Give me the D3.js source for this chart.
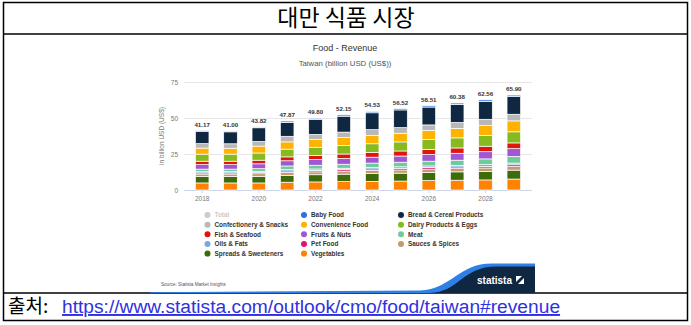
<!DOCTYPE html>
<html><head><meta charset="utf-8">
<script src="https://cdn.jsdelivr.net/npm/d3@7"></script>
<style>
html,body{margin:0;padding:0;background:#fff;}
svg{display:block;}
</style></head>
<body>
<script>
const years = [2018,2019,2020,2021,2022,2023,2024,2025,2026,2027,2028,2029];
const totals = [41.17,41.00,43.82,47.87,49.80,52.15,54.53,56.52,58.51,60.38,62.56,65.90];
const vegetables  = [4.9,4.9,4.9,5.4,5.6,5.8,6.0,6.2,6.6,6.8,7.0,7.6];
const spreads     = [4.5,4.5,4.6,4.8,5.0,5.2,5.4,5.5,5.6,5.8,5.9,6.2];
const sauces      = [1.7,1.7,1.8,2.0,2.0,2.1,2.2,2.2,2.3,2.3,2.4,2.5];
const petFood     = [0.8,0.8,0.8,1.0,1.0,1.0,1.0,1.1,1.1,1.1,1.1,1.2];
const oilsFats    = [0.9,0.9,0.9,1.0,1.0,1.0,1.1,1.1,1.1,1.1,1.2,1.2];
const meat        = [1.7,1.7,1.8,2.5,2.6,2.8,3.0,3.2,3.3,3.6,4.0,4.6];
const fruitsNuts  = [3.1,3.1,3.4,3.6,3.9,4.0,4.1,4.3,4.6,4.8,5.0,5.4];
const fishSeafood = [2.4,2.4,2.5,2.7,2.9,3.1,3.3,3.5,3.6,3.7,3.8,4.0];
const dairy       = [4.9,4.9,5.0,5.4,5.7,5.9,6.0,6.3,6.8,7.0,7.4,7.7];
const convenience = [4.2,4.1,4.8,5.0,5.3,5.5,5.8,6.0,6.4,6.6,6.9,7.6];
const confection  = [3.1,3.1,3.2,3.9,3.6,3.8,4.0,3.9,3.8,4.1,4.4,4.6];
const bread       = [8.37,8.30,9.52,9.67,10.30,11.05,11.73,12.32,12.41,12.58,12.46,12.30];
const babyFood    = [0.6,0.6,0.6,0.9,0.9,0.9,0.9,0.9,0.9,0.9,1.0,1.0];
const xTickLabels = ["2018","2020","2022","2024","2026","2028"];
const yTicks = [0,25,50,75];

const series = [
  {name:"Vegetables", values:vegetables, color:"#ff8200"},
  {name:"Spreads & Sweeteners", values:spreads, color:"#3d6b0c"},
  {name:"Sauces & Spices", values:sauces, color:"#c49b6d"},
  {name:"Pet Food", values:petFood, color:"#e2136f"},
  {name:"Oils & Fats", values:oilsFats, color:"#78a8e6"},
  {name:"Meat", values:meat, color:"#6fcb98"},
  {name:"Fruits & Nuts", values:fruitsNuts, color:"#a057d4"},
  {name:"Fish & Seafood", values:fishSeafood, color:"#e0150e"},
  {name:"Dairy Products & Eggs", values:dairy, color:"#86ba1f"},
  {name:"Convenience Food", values:convenience, color:"#ffb200"},
  {name:"Confectionery & Snacks", values:confection, color:"#b8b8b8"},
  {name:"Bread & Cereal Products", values:bread, color:"#0f2741"},
  {name:"Baby Food", values:babyFood, color:"#2b72e2"}
];
const legendOrder = ["Total","Baby Food","Bread & Cereal Products","Confectionery & Snacks","Convenience Food","Dairy Products & Eggs","Fish & Seafood","Fruits & Nuts","Meat","Oils & Fats","Pet Food","Sauces & Spices","Spreads & Sweeteners","Vegetables"];

const W = 691, H = 325;
const svg = d3.select("body").append("svg").attr("width", W).attr("height", H);

// table frame
svg.append("rect").attr("x",3.5).attr("y",2.5).attr("width",684).attr("height",318)
  .attr("fill","none").attr("stroke","#000").attr("stroke-width",1.5);
svg.append("line").attr("x1",3).attr("x2",688).attr("y1",34).attr("y2",34).attr("stroke","#000").attr("stroke-width",1.5);
svg.append("line").attr("x1",3).attr("x2",688).attr("y1",293).attr("y2",293).attr("stroke","#000").attr("stroke-width",1.5);

svg.append("text").attr("x",346).attr("y",26).attr("text-anchor","middle")
  .attr("font-family","'Noto Sans CJK KR'").attr("font-size",23).attr("fill","#000")
  .text("대만 식품 시장");

// chart titles
svg.append("text").attr("x",345).attr("y",51).attr("text-anchor","middle")
  .attr("font-family","'Liberation Sans', Arial, sans-serif").attr("font-size",9).attr("fill","#333")
  .text("Food - Revenue");
svg.append("text").attr("x",345).attr("y",66).attr("text-anchor","middle")
  .attr("font-family","'Liberation Sans', Arial, sans-serif").attr("font-size",7.8).attr("fill","#555")
  .text("Taiwan (billion USD (US$))");

// scales
const x = d3.scaleBand().domain(years).range([188, 528]).paddingInner(0.52).paddingOuter(0.26);
const y = d3.scaleLinear().domain([0,75]).range([190, 82]);

// grid
svg.append("g").selectAll("line").data(yTicks).join("line")
  .attr("x1",184).attr("x2",532).attr("y1",d=>y(d)).attr("y2",d=>y(d))
  .attr("stroke",d=>d===0?"#ccd6eb":"#e6e6e6").attr("stroke-width",1).attr("shape-rendering","crispEdges");

// y axis labels
const yAxis = d3.axisLeft(y).tickValues(yTicks).tickSize(0).tickPadding(0);
const gy = svg.append("g").attr("transform","translate(178,0)").call(yAxis);
gy.select(".domain").remove();
gy.selectAll("text").attr("font-family","'Liberation Sans', Arial, sans-serif").attr("font-size",6.5).attr("fill","#777");

svg.append("text").attr("transform","translate(164,136) rotate(-90)").attr("text-anchor","middle")
  .attr("font-family","'Liberation Sans', Arial, sans-serif").attr("font-size",6.5).attr("fill","#777")
  .text("in billion USD (US$)");

// x axis
const xAxis = d3.axisBottom(x).tickValues(years.filter(v=>xTickLabels.includes(String(v)))).tickSize(3).tickPadding(3).tickFormat(d=>String(d));
const gx = svg.append("g").attr("transform","translate(0,190)").call(xAxis);
gx.select(".domain").remove();
gx.selectAll("line").attr("stroke","#ccd6eb");
gx.selectAll("text").attr("font-family","'Liberation Sans', Arial, sans-serif").attr("font-size",6.5).attr("fill","#777");

// stacked bars
const rows = years.map((yr,i)=>{const o={year:yr}; series.forEach(s=>o[s.name]=s.values[i]); return o;});
const stack = d3.stack().keys(series.map(s=>s.name))(rows);
svg.append("g").selectAll("g").data(stack).join("g")
  .attr("fill",(d,i)=>series[i].color)
  .selectAll("rect").data(d=>d).join("rect")
  .attr("x",d=>x(d.data.year)).attr("width",x.bandwidth())
  .attr("y",d=>y(d[1])).attr("height",d=>y(d[0])-y(d[1]))
  .attr("stroke","#fff").attr("stroke-width",0.7);

// total labels
svg.append("g").selectAll("text").data(years).join("text")
  .attr("x",(d)=>x(d)+x.bandwidth()/2).attr("y",(d,i)=>y(totals[i])-4)
  .attr("text-anchor","middle").attr("font-family","'Liberation Sans', Arial, sans-serif")
  .attr("font-size",6.2).attr("font-weight","bold").attr("fill","#333")
  .text((d,i)=>totals[i].toFixed(2));

// legend
const colorOf = name => name==="Total" ? "#cccccc" : series.find(s=>s.name===name).color;
const colX = [207.5, 304, 401];
const rowY = [215, 224.7, 234.3, 244, 253.6];
const lg = svg.append("g").selectAll("g").data(legendOrder).join("g")
  .attr("transform",(d,i)=>`translate(${colX[i%3]},${rowY[Math.floor(i/3)]})`);
lg.append("circle").attr("r",3).attr("fill",d=>colorOf(d));
lg.append("text").attr("x",7).attr("y",2.3)
  .attr("font-family","'Liberation Sans', Arial, sans-serif").attr("font-size",6.4).attr("font-weight","bold")
  .attr("fill",d=>d==="Total"?"#cccccc":"#333").text(d=>d);

// source
svg.append("text").attr("x",161).attr("y",286)
  .attr("font-family","'Liberation Sans', Arial, sans-serif").attr("font-size",4.6).attr("fill","#555")
  .text("Source: Statista Market Insights");

// statista footer band
svg.append("path").attr("d","M150,293 L150,292.2 L420,290.5 C452,289 458,263.5 492,263.5 L535,263.5 L535,293 Z").attr("fill","#2e7fe6");
svg.append("path").attr("d","M430,293 C458,292.5 463,266.5 496,266.5 L535,266.5 L535,293 Z").attr("fill","#0f2741");
svg.append("text").attr("x",477).attr("y",284)
  .attr("font-family","'Liberation Sans', Arial, sans-serif").attr("font-size",10).attr("font-weight","bold").attr("fill","#fff")
  .text("statista");
svg.append("rect").attr("x",516).attr("y",276).attr("width",8).attr("height",8).attr("fill","#fff");
svg.append("path").attr("d","M516,282 L522,276 L524,276 L524,278 L518,284 L516,284 Z").attr("fill","#0f2741");

// bottom source row
svg.append("text").attr("x",8).attr("y",313).attr("font-size",19)
  .attr("font-family","'Noto Sans CJK KR'").attr("fill","#000").text("출처:");
svg.append("text").attr("x",62).attr("y",313).attr("font-size",19.2)
  .attr("font-family","'Liberation Sans', Arial, sans-serif").attr("fill","#3030e0")
  .attr("text-decoration","underline").text("https://www.statista.com/outlook/cmo/food/taiwan#revenue");
</script>
</body></html>
